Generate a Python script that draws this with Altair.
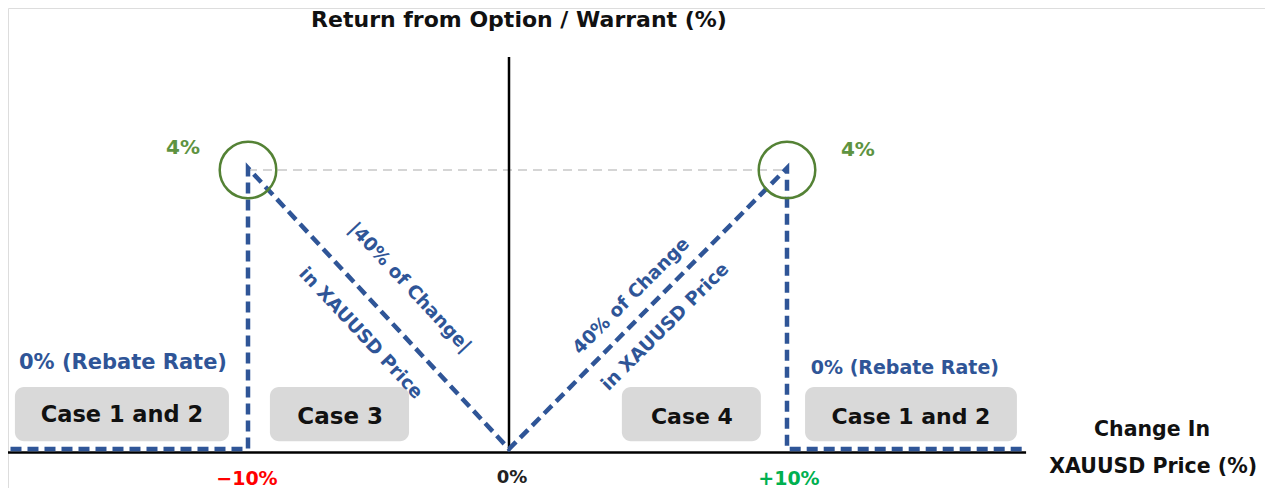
import altair as alt
import pandas as pd

# ---- data ----
payoff_x = [-19.1, -10, -10, 0, 10, 10, 18.6]
payoff_y = [0, 0, 4, 0, 4, 0, 0]
peak_x = [-10, 10]
peak_y = [4, 4]
peak_labels = ["4%", "4%"]
peak_label_x = [-12.49, 12.55]
peak_label_y = [4.31, 4.28]

tick_labels = ["\u221210%", "0%", "+10%"]
tick_x = [-10.04, 0.11, 10.07]
tick_y = [-0.40, -0.385, -0.40]
tick_colors = ["#ff0000", "#222222", "#00b050"]

case_labels = ["Case 1 and 2", "Case 3", "Case 4", "Case 1 and 2"]
case_x0 = [-18.93, -9.16, 4.06, 10.65]
case_x1 = [-10.73, -3.83, 9.06, 18.27]
case_y0 = [0.14, 0.14, 0.14, 0.14]
case_y1 = [0.91, 0.91, 0.91, 0.91]
case_label_x = [-14.83, -6.47, 6.58, 14.46]
case_label_y = [0.51, 0.48, 0.48, 0.48]
case_font = [22.5, 23, 22, 22]

rebate_labels = ["0% (Rebate Rate)", "0% (Rebate Rate)"]
rebate_x = [-14.79, 14.24]
rebate_y = [1.25, 1.18]
rebate_font = [21, 19]

slope_labels = ["|40% of Change|", "in XAUUSD Price", "40% of Change", "in XAUUSD Price"]
slope_x = [-3.79, -5.67, 4.39, 5.61]
slope_y = [2.33, 1.68, 2.21, 1.77]
slope_angle = [47, 47, 315, 315]

xaxis_span = [-19.2, 18.6]
yaxis_top = 5.61

FONT = "DejaVu Sans"
BLUE = "#2f5597"

xs = alt.Scale(domain=[-10, 0, 10], range=[240, 501, 779], nice=False, zero=False)
ys = alt.Scale(domain=[0, 4], range=[443, 162], nice=False, zero=False)

def X(f="x"):
    return alt.X(f"{f}:Q", scale=xs, axis=None)

def Y(f="y"):
    return alt.Y(f"{f}:Q", scale=ys, axis=None)

def text_layer(df, **kw):
    return alt.Chart(df).mark_text(font=FONT, fontWeight="bold", baseline="middle",
                                   align="center", **kw).encode(x=X(), y=Y(), text="t:N")

# boxes
boxes = pd.DataFrame({"x": case_x0, "x2": case_x1, "y": case_y0, "y2": case_y1})
box_layer = alt.Chart(boxes).mark_rect(color="#d9d9d9", cornerRadius=9).encode(
    x=X(), x2="x2:Q", y=Y(), y2="y2:Q")

case_layers = [
    text_layer(pd.DataFrame({"x": [case_label_x[i]], "y": [case_label_y[i]], "t": [case_labels[i]]}),
               fontSize=case_font[i], color="#111111")
    for i in range(len(case_labels))
]

# axes
xaxis = alt.Chart(pd.DataFrame({"x": [xaxis_span[0]], "x2": [xaxis_span[1]], "y": [0]})).mark_rule(
    color="#000000", strokeWidth=2.5, yOffset=1.5).encode(x=X(), x2="x2:Q", y=Y())
yaxis = alt.Chart(pd.DataFrame({"x": [0], "y": [0], "y2": [yaxis_top]})).mark_rule(
    color="#000000", strokeWidth=2.5).encode(x=X(), y=Y(), y2="y2:Q")

# gray dashed cap line
cap = alt.Chart(pd.DataFrame({"x": [peak_x[0]], "x2": [peak_x[1]], "y": [peak_y[0]]})).mark_rule(
    color="#c8c8c8", strokeWidth=1.5, strokeDash=[9, 6]).encode(x=X(), x2="x2:Q", y=Y())

# payoff line
pay = pd.DataFrame({"x": payoff_x, "y": payoff_y, "o": list(range(len(payoff_x)))})
pay_layer = alt.Chart(pay).mark_line(color=BLUE, strokeWidth=4.5, strokeDash=[11, 6],
                                     yOffset=-2, strokeJoin="miter").encode(
    x=X(), y=Y(), order=alt.Order("o:Q"))

# circles
circ = alt.Chart(pd.DataFrame({"x": peak_x, "y": peak_y})).mark_point(
    shape="circle", size=3200, filled=False, color="#548235", strokeWidth=2.5, opacity=1).encode(
    x=X(), y=Y())

peak_txt = text_layer(pd.DataFrame({"x": peak_label_x, "y": peak_label_y, "t": peak_labels}),
                      fontSize=20, color="#5e9341")

reb_layers = [
    text_layer(pd.DataFrame({"x": [rebate_x[i]], "y": [rebate_y[i]], "t": [rebate_labels[i]]}),
               fontSize=rebate_font[i], color=BLUE)
    for i in range(len(rebate_labels))
]

slope_layers = [
    text_layer(pd.DataFrame({"x": [slope_x[i]], "y": [slope_y[i]], "t": [slope_labels[i]]}),
               fontSize=18.5, color=BLUE, angle=slope_angle[i])
    for i in range(len(slope_labels))
]

tick_layers = [
    text_layer(pd.DataFrame({"x": [tick_x[i]], "y": [tick_y[i]], "t": [tick_labels[i]]}),
               fontSize=19 if i != 1 else 18, color=tick_colors[i])
    for i in range(len(tick_labels))
]

title_layer = text_layer(pd.DataFrame({"x": [0.36], "y": [6.135], "t": ["Return from Option / Warrant (%)"]}),
                         fontSize=22, color="#111111")

xt_layer = text_layer(pd.DataFrame({"x": [23.13, 23.17], "y": [0.30, -0.228],
                                    "t": ["Change In", "XAUUSD Price (%)"]}),
                      fontSize=20.5, color="#111111")

chart = alt.layer(
    box_layer, *case_layers, cap, xaxis, yaxis, pay_layer, circ, peak_txt, *reb_layers,
    *slope_layers, *tick_layers, title_layer, xt_layer
).properties(width=1257, height=480, padding=0, autosize=alt.AutoSizeParams(type="none")
).configure_view(strokeWidth=0, stroke="transparent").configure(background="#ffffff")

chart.save("out.html", embed_options={"renderer": "svg", "actions": False})
